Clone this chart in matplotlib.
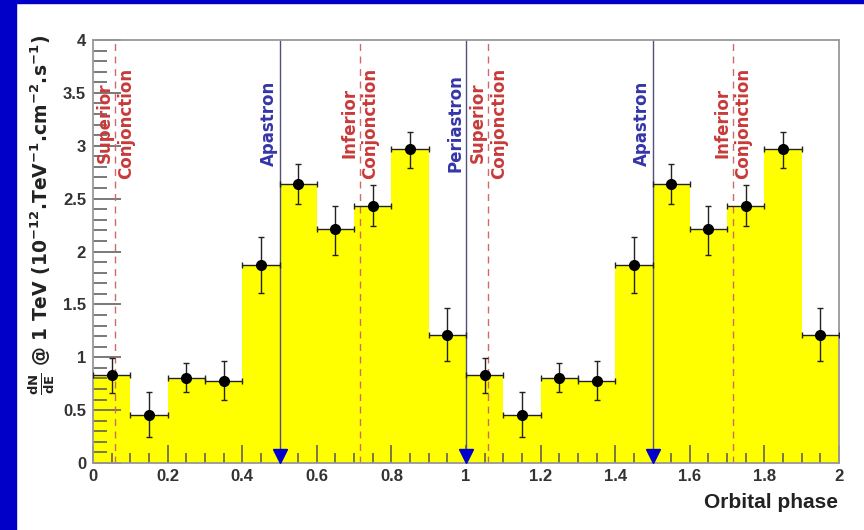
import matplotlib.pyplot as plt
import numpy as np
from matplotlib import font_manager
from matplotlib.patches import Rectangle
from matplotlib.ticker import MultipleLocator
import matplotlib.transforms as mtransforms

# Flujo por bin de fase (un periodo, se repite dos veces)
phase_centers = [0.05, 0.15, 0.25, 0.35, 0.45, 0.55, 0.65, 0.75, 0.85, 0.95]
flux = [0.83, 0.45, 0.80, 0.78, 1.87, 2.64, 2.21, 2.43, 2.97, 1.21]
err_low = [0.17, 0.20, 0.13, 0.18, 0.26, 0.19, 0.24, 0.19, 0.18, 0.25]
err_high = [0.16, 0.22, 0.15, 0.18, 0.27, 0.19, 0.22, 0.20, 0.16, 0.26]
bin_half_width = 0.05

# Marcas orbitales
conj_pos = [0.06, 0.716, 1.06, 1.716]
conj_text = ["Superior\nConjonction", "Inferior\nConjonction",
             "Superior\nConjonction", "Inferior\nConjonction"]
node_pos = [0.5, 1.0, 1.5]
node_text = ["Apastron", "Periastron", "Apastron"]

n_periods = 2
x = np.concatenate([np.array(phase_centers) + k for k in range(n_periods)])
y = np.tile(flux, n_periods)
ylo = np.tile(err_low, n_periods)
yhi = np.tile(err_high, n_periods)
edges = np.concatenate([x - bin_half_width, [x[-1] + bin_half_width]])

names = {f.name for f in font_manager.fontManager.ttflist}
narrow = "Liberation Sans Narrow" if "Liberation Sans Narrow" in names else "Liberation Sans"

fig = plt.figure(figsize=(8.64, 5.30), dpi=100)
ax = fig.add_axes([93 / 864, 1 - 463 / 530, (839 - 93) / 864, (463 - 40) / 530])

# Histograma relleno y puntos con errores
ax.stairs(y, edges, fill=True, color="#ffff00", zorder=1)
ax.errorbar(x, y, xerr=bin_half_width, yerr=[ylo, yhi], fmt="o", color="black",
            ms=7, elinewidth=1.0, capsize=2.5, capthick=1.0, ecolor="#222222", zorder=4)

text_y = 3.215
for pos, txt in zip(conj_pos, conj_text):
    ax.axvline(pos, color="#d06a6a", lw=1.0, ls=(0, (5, 4)), zorder=2)
    ax.text(pos, text_y, txt, rotation=90, ha="center", va="center",
            multialignment="center", color="#c83a3a", fontsize=12,
            fontweight="bold", linespacing=1.2, zorder=3)

shift = mtransforms.offset_copy(ax.transData, fig=fig, x=-2, y=0, units="dots")
for pos, txt in zip(node_pos, node_text):
    ax.axvline(pos, color="#50507a", lw=1.0, zorder=2)
    ax.text(pos, text_y, txt, rotation=90, ha="right", va="center",
            color="#3535a8", fontsize=12, fontweight="bold", transform=shift, zorder=3)
    ax.plot(pos, 0.066, marker="v", ms=10, color="#0000cc", clip_on=False, zorder=5)

ax.set_xlim(0, 2)
ax.set_ylim(0, 4)
ax.xaxis.set_major_locator(MultipleLocator(0.2))
ax.xaxis.set_minor_locator(MultipleLocator(0.05))
ax.yaxis.set_major_locator(MultipleLocator(0.5))
ax.yaxis.set_minor_locator(MultipleLocator(0.1))
ax.xaxis.set_major_formatter(plt.FuncFormatter(lambda v, p: f"{v:g}"))
ax.yaxis.set_major_formatter(plt.FuncFormatter(lambda v, p: f"{v:g}"))

ax.tick_params(axis="both", which="both", direction="in", color="#555555", width=1.1,
               top=False, right=False)
ax.tick_params(axis="y", which="major", length=20, pad=5)
ax.tick_params(axis="y", which="minor", length=10)
ax.tick_params(axis="x", which="major", length=13, pad=4)
ax.tick_params(axis="x", which="minor", length=7)
for lab in ax.get_xticklabels() + ax.get_yticklabels():
    lab.set_family([narrow, "DejaVu Sans"])
    lab.set_fontweight("bold")
    lab.set_fontsize(12)
    lab.set_color("#333333")
for sp in ax.spines.values():
    sp.set_color("#999999")
    sp.set_linewidth(1.3)

fig.text(838 / 864, 1 - 503 / 530, "Orbital phase", ha="right", va="center",
         family=[narrow, "DejaVu Sans"], fontweight="bold", fontsize=15, color="#222222")

ylabel = (r"$\mathbf{\frac{dN}{dE}}$ @ 1 TeV (10$^{\mathbf{-12}}$.TeV$^{\mathbf{-1}}$"
          r".cm$^{\mathbf{-2}}$.s$^{\mathbf{-1}}$)")
fig.text(42 / 864, 1 - 35 / 530, ylabel, rotation=90, ha="center", va="top",
         fontsize=13.5, fontweight="bold", color="#222222")

# Marco azul
fig.patches.append(Rectangle((0, 0), 16 / 864, 1, transform=fig.transFigure,
                             color="#0000c8", zorder=0))
fig.patches.append(Rectangle((0, 1 - 3 / 530), 1, 3 / 530, transform=fig.transFigure,
                             color="#0000c8", zorder=0))

fig.savefig("out.png", dpi=100)
